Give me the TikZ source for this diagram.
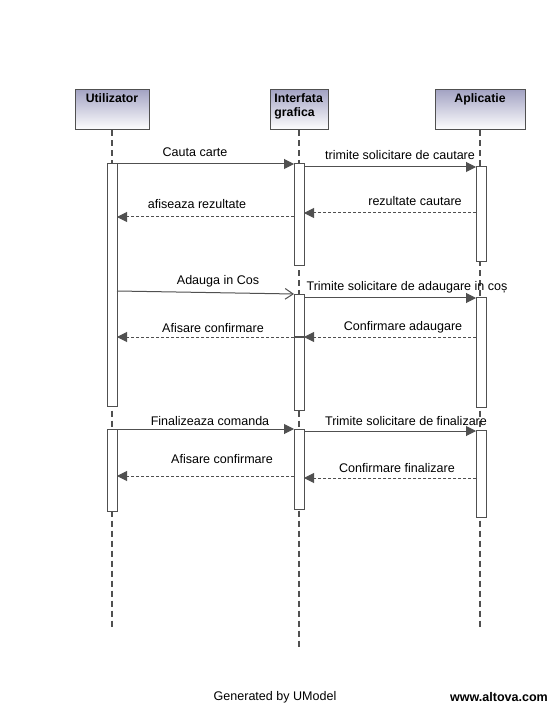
\documentclass[tikz,border=0pt]{standalone}
\usepackage{fontspec}
\setmainfont{Liberation Sans}
\usetikzlibrary{arrows.meta,positioning}
\definecolor{umlgray}{RGB}{80,80,80}
\definecolor{umlhead}{RGB}{164,164,196}
\tikzset{
  headbox/.style={draw=umlgray,line width=.75pt,top color=umlhead,bottom color=white,minimum height=30pt,inner sep=0pt},
  headlbl/.style={font=\bfseries\fontsize{9.2}{10.5}\selectfont,inner sep=0pt},
  lifeline/.style={draw=umlgray,line width=1.5pt,dash pattern=on 4.5pt off 3pt},
  actbar/.style={draw=umlgray,fill=white,line width=.75pt},
  callmsg/.style={draw=umlgray,line width=.75pt,-{Triangle[length=7.5pt,width=7.5pt]}},
  openmsg/.style={draw=umlgray,line width=.75pt,-{Straight Barb[length=6pt,width=8pt]}},
  retmsg/.style={callmsg,dash pattern=on 2.25pt off 1.5pt},
  msglbl/.style={font=\fontsize{9.4}{10.5}\selectfont,inner sep=0pt}
}
\begin{document}
\begin{tikzpicture}[x=0.75pt,y=-0.75pt]
\useasboundingbox[fill=white] (0,0) rectangle (556,705);
% lifeline heads
\node[headbox,minimum width=55.5pt] (utl) at (112,110) {};
\node[headbox,minimum width=43.5pt] (gui) at (299,110) {};
\node[headbox,minimum width=67.5pt] (app) at (480,110) {};
\node[headlbl,anchor=north] (utltxt) at ([yshift=-3pt]utl.north) {Utilizator};
\node[headlbl,anchor=north west,align=left] (guitxt) at ([xshift=3.5pt,yshift=-3pt]gui.north west) {Interfata\\grafica};
\node[headlbl,anchor=north] (apptxt) at ([yshift=-3pt]app.north) {Aplicatie};
\coordinate (utlend) at (112,628);
\coordinate (guiend) at (299,647);
\coordinate (append) at (480,630);
\draw[lifeline] (utl.south) -- (utlend);
\draw[lifeline] (gui.south) -- (guiend);
\draw[lifeline] (app.south) -- (append);
% activations
\draw[actbar] (107,164) rectangle (117,406);
\draw[actbar] (107,429) rectangle (117,511);
\draw[actbar] (294,164) rectangle (304,266);
\draw[actbar] (294,295) rectangle (304,410);
\draw[actbar] (294,429) rectangle (304,509);
\draw[actbar] (476,167) rectangle (486,262);
\draw[actbar] (476,298) rectangle (486,407);
\draw[actbar] (476,430) rectangle (486,517);
% messages
\coordinate (m1s) at (117,164); \coordinate (m1e) at (294,164);
\coordinate (m2s) at (304,167); \coordinate (m2e) at (476,167);
\coordinate (m3s) at (476,213); \coordinate (m3e) at (304,213);
\coordinate (m4s) at (294,217); \coordinate (m4e) at (117,217);
\coordinate (m5s) at (117,291); \coordinate (m5e) at (294,294);
\coordinate (m6s) at (304,298); \coordinate (m6e) at (476,298);
\coordinate (m7s) at (476,337); \coordinate (m7e) at (304,337);
\coordinate (m8s) at (294,337); \coordinate (m8e) at (117,337);
\coordinate (m9s) at (117,429); \coordinate (m9e) at (294,429);
\coordinate (m10s) at (304,431); \coordinate (m10e) at (476,431);
\coordinate (m11s) at (476,478); \coordinate (m11e) at (304,478);
\coordinate (m12s) at (294,476); \coordinate (m12e) at (117,476);
\draw[callmsg] (m1s) -- (m1e);
\draw[callmsg] (m2s) -- (m2e);
\draw[retmsg] (m3s) -- (m3e);
\draw[retmsg] (m4s) -- (m4e);
\draw[openmsg] (m5s) -- (m5e);
\draw[callmsg] (m6s) -- (m6e);
\draw[retmsg] (m7s) -- (m7e);
\draw[umlgray,line width=1pt] (m7e) -- (m8s);
\draw[retmsg] (m8s) -- (m8e);
\draw[callmsg] (m9s) -- (m9e);
\draw[callmsg] (m10s) -- (m10e);
\draw[retmsg] (m11s) -- (m11e);
\draw[retmsg] (m12s) -- (m12e);
\node[msglbl] (l1) at (195,152) {Cauta carte};
\node[msglbl] (l2) at (400,155) {trimite solicitare de cautare};
\node[msglbl] (l3) at (415,201) {rezultate cautare};
\node[msglbl] (l4) at (197,204) {afiseaza rezultate};
\node[msglbl] (l5) at (218,281) {Adauga in Cos};
\node[msglbl] (l6) at (407,287) {Trimite solicitare de adaugare in coș};
\node[msglbl] (l7) at (403,327) {Confirmare adaugare};
\node[msglbl] (l8) at (213,328) {Afisare confirmare};
\node[msglbl] (l9) at (210,421) {Finalizeaza comanda};
\node[msglbl] (l10) at (406,421) {Trimite solicitare de finalizare};
\node[msglbl] (l11) at (397,468) {Confirmare finalizare};
\node[msglbl] (l12) at (222,459) {Afisare confirmare};
% footer
\node[msglbl] (gen) at (275,697) {Generated by UModel};
\node[msglbl,font=\bfseries\fontsize{9.4}{10.5}\selectfont] (web) at (499,697) {www.altova.com};
\end{tikzpicture}
\end{document}
